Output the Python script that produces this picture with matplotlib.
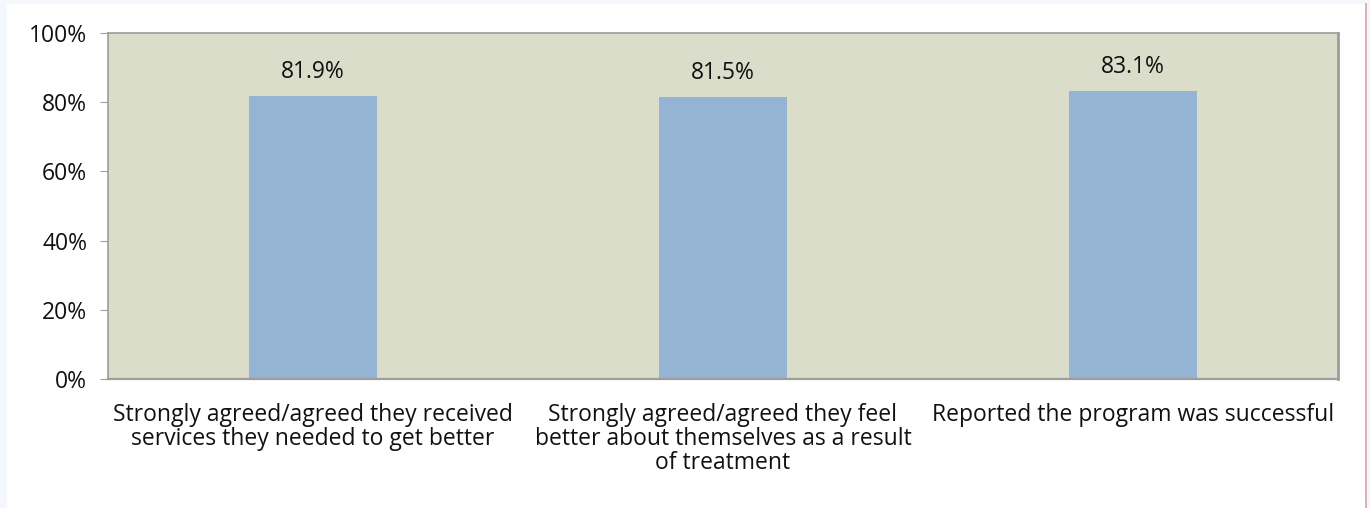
import matplotlib
matplotlib.use("Agg")
import matplotlib.pyplot as plt
from matplotlib.patches import Rectangle
from matplotlib.ticker import FuncFormatter, MultipleLocator

categories = [
    "Strongly agreed/agreed they received\nservices they needed to get better",
    "Strongly agreed/agreed they feel\nbetter about themselves as a result\nof treatment",
    "Reported the program was successful",
]
values = [81.9, 81.5, 83.1]

plt.rcParams['font.family'] = ['Open Sans', 'DejaVu Sans']
FS = 16.5

fig = plt.figure(figsize=(13.7, 5.08), dpi=100)
fig.patch.set_facecolor('#F4F7FC')
# white page with a thin pink edge on the right
fig.patches.append(Rectangle((7 / 1370, 0), (1366 - 7) / 1370, 1 - 4 / 508,
                             transform=fig.transFigure, facecolor='white',
                             edgecolor='none', zorder=-10))
fig.add_artist(plt.Line2D([1366 / 1370, 1366 / 1370], [0, 1 - 4 / 508],
                          transform=fig.transFigure, color='#D8A0A8', lw=1.2,
                          zorder=-5))

ax = fig.add_axes([108 / 1370, 1 - 379 / 508, (1338 - 108) / 1370, (379 - 33) / 508])
ax.set_facecolor('#DBDDCB')

x = range(len(categories))
ax.bar(x, values, width=0.31, color='#95B3D2', zorder=2)
for xi, v in zip(x, values):
    ax.text(xi, v + 3.5, f"{v}%", ha='center', va='bottom', fontsize=FS, color='#111111')

ax.set_xlim(-0.5, len(categories) - 0.5)
ax.set_ylim(0, 100)
ax.yaxis.set_major_locator(MultipleLocator(20))
ax.yaxis.set_major_formatter(FuncFormatter(lambda v, p: f"{v:.0f}%"))
ax.set_xticks(list(x))
ax.set_xticklabels(categories, fontsize=FS, linespacing=1.02, color='#111111')
ax.tick_params(axis='x', length=0, pad=17)
ax.tick_params(axis='y', length=6, color='#A0A0A0', labelsize=FS, labelcolor='#111111', pad=9)

for s in ax.spines.values():
    s.set_color('#A09C9C')
    s.set_linewidth(1.2)
ax.spines['right'].set_linewidth(2)
ax.spines['bottom'].set_linewidth(1.6)

fig.savefig("out.png", dpi=100, facecolor=fig.get_facecolor())
